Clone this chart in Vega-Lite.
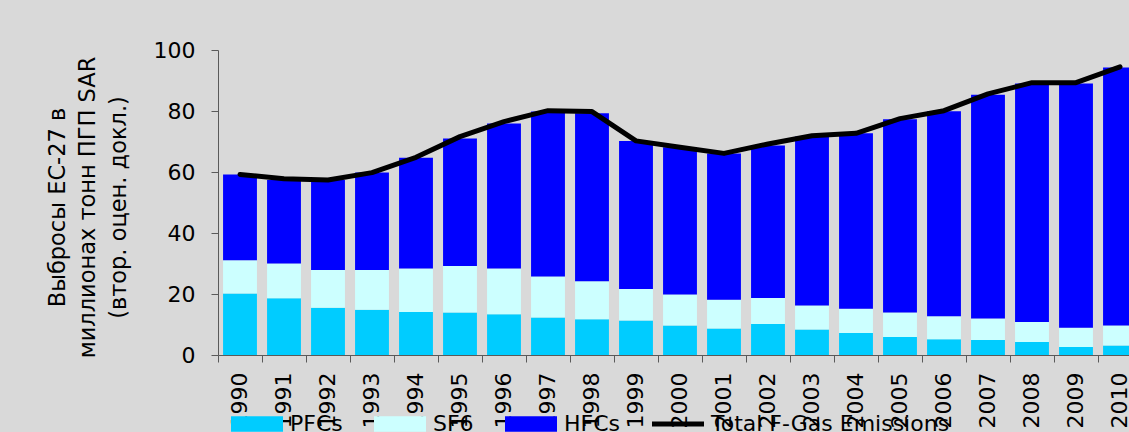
{
  "$schema": "https://vega.github.io/schema/vega-lite/v6.json",
  "width": 911,
  "height": 305,
  "autosize": {"type": "none"},
  "padding": {"left": 218, "top": 50, "right": 0, "bottom": 77},
  "background": "#d9d9d9",
  "config": {
    "view": {"stroke": null},
    "font": "DejaVu Sans",
    "axis": {"domainColor": "#5a5a5a", "tickColor": "#5a5a5a", "labelColor": "#000000", "titleColor": "#000000", "grid": false}
  },
  "datasets": {
    "gases": [
      {"year": "1990", "series": "PFCs", "value": 20.2}, {"year": "1990", "series": "SF6", "value": 10.9}, {"year": "1990", "series": "HFCs", "value": 28.1},
      {"year": "1991", "series": "PFCs", "value": 18.6}, {"year": "1991", "series": "SF6", "value": 11.4}, {"year": "1991", "series": "HFCs", "value": 27.4},
      {"year": "1992", "series": "PFCs", "value": 15.5}, {"year": "1992", "series": "SF6", "value": 12.4}, {"year": "1992", "series": "HFCs", "value": 29.5},
      {"year": "1993", "series": "PFCs", "value": 14.8}, {"year": "1993", "series": "SF6", "value": 13.1}, {"year": "1993", "series": "HFCs", "value": 31.9},
      {"year": "1994", "series": "PFCs", "value": 14.1}, {"year": "1994", "series": "SF6", "value": 14.3}, {"year": "1994", "series": "HFCs", "value": 36.3},
      {"year": "1995", "series": "PFCs", "value": 13.9}, {"year": "1995", "series": "SF6", "value": 15.3}, {"year": "1995", "series": "HFCs", "value": 41.8},
      {"year": "1996", "series": "PFCs", "value": 13.4}, {"year": "1996", "series": "SF6", "value": 15.0}, {"year": "1996", "series": "HFCs", "value": 47.5},
      {"year": "1997", "series": "PFCs", "value": 12.3}, {"year": "1997", "series": "SF6", "value": 13.4}, {"year": "1997", "series": "HFCs", "value": 54.1},
      {"year": "1998", "series": "PFCs", "value": 11.7}, {"year": "1998", "series": "SF6", "value": 12.5}, {"year": "1998", "series": "HFCs", "value": 55.1},
      {"year": "1999", "series": "PFCs", "value": 11.3}, {"year": "1999", "series": "SF6", "value": 10.3}, {"year": "1999", "series": "HFCs", "value": 48.6},
      {"year": "2000", "series": "PFCs", "value": 9.7}, {"year": "2000", "series": "SF6", "value": 10.1}, {"year": "2000", "series": "HFCs", "value": 48.3},
      {"year": "2001", "series": "PFCs", "value": 8.7}, {"year": "2001", "series": "SF6", "value": 9.4}, {"year": "2001", "series": "HFCs", "value": 48.0},
      {"year": "2002", "series": "PFCs", "value": 10.2}, {"year": "2002", "series": "SF6", "value": 8.5}, {"year": "2002", "series": "HFCs", "value": 50.0},
      {"year": "2003", "series": "PFCs", "value": 8.4}, {"year": "2003", "series": "SF6", "value": 7.8}, {"year": "2003", "series": "HFCs", "value": 55.4},
      {"year": "2004", "series": "PFCs", "value": 7.2}, {"year": "2004", "series": "SF6", "value": 8.0}, {"year": "2004", "series": "HFCs", "value": 57.5},
      {"year": "2005", "series": "PFCs", "value": 5.9}, {"year": "2005", "series": "SF6", "value": 8.0}, {"year": "2005", "series": "HFCs", "value": 63.4},
      {"year": "2006", "series": "PFCs", "value": 5.2}, {"year": "2006", "series": "SF6", "value": 7.5}, {"year": "2006", "series": "HFCs", "value": 67.2},
      {"year": "2007", "series": "PFCs", "value": 4.9}, {"year": "2007", "series": "SF6", "value": 7.1}, {"year": "2007", "series": "HFCs", "value": 73.3},
      {"year": "2008", "series": "PFCs", "value": 4.3}, {"year": "2008", "series": "SF6", "value": 6.5}, {"year": "2008", "series": "HFCs", "value": 78.2},
      {"year": "2009", "series": "PFCs", "value": 2.6}, {"year": "2009", "series": "SF6", "value": 6.3}, {"year": "2009", "series": "HFCs", "value": 80.1},
      {"year": "2010", "series": "PFCs", "value": 3.1}, {"year": "2010", "series": "SF6", "value": 6.6}, {"year": "2010", "series": "HFCs", "value": 84.6}
    ],
    "totals": [
      {"year": "1990", "total": 59.2}, {"year": "1991", "total": 57.8}, {"year": "1992", "total": 57.4},
      {"year": "1993", "total": 59.8}, {"year": "1994", "total": 64.8}, {"year": "1995", "total": 71.6},
      {"year": "1996", "total": 76.5}, {"year": "1997", "total": 80.1}, {"year": "1998", "total": 79.8},
      {"year": "1999", "total": 70.2}, {"year": "2000", "total": 68.1}, {"year": "2001", "total": 66.1},
      {"year": "2002", "total": 69.2}, {"year": "2003", "total": 71.9}, {"year": "2004", "total": 72.7},
      {"year": "2005", "total": 77.5}, {"year": "2006", "total": 80.1}, {"year": "2007", "total": 85.6},
      {"year": "2008", "total": 89.3}, {"year": "2009", "total": 89.3}, {"year": "2010", "total": 94.5}
    ]
  },
  "layer": [
    {
      "data": {"name": "gases"},
      "transform": [{"calculate": "indexof(['PFCs', 'SF6', 'HFCs'], datum.series)", "as": "stackOrder"}],
      "mark": {"type": "bar", "width": {"band": 0.77}},
      "encoding": {
        "x": {
          "field": "year", "type": "ordinal",
          "scale": {"paddingInner": 0, "paddingOuter": 0, "range": [0, 924]},
          "axis": {"title": null, "labelAngle": -90, "labelFontSize": 22, "labelPadding": 10, "tickSize": 7, "bandPosition": 0, "labelOverlap": false}
        },
        "y": {
          "field": "value", "type": "quantitative", "stack": "zero",
          "scale": {"domain": [0, 100], "nice": false},
          "axis": {
            "values": [0, 20, 40, 60, 80, 100], "labelFontSize": 22, "labelPadding": 16, "tickSize": 7,
            "title": ["Выбросы ЕС-27 в", "миллионах тонн ПГП SAR", "(втор. оцен. докл.)"],
            "titleFontSize": 22.5, "titleFontWeight": "normal", "titleLineHeight": 30.5,
            "titleAngle": -90, "titleAlign": "center", "titleBaseline": "middle", "titleX": -161, "titleY": 157
          }
        },
        "order": {"field": "stackOrder", "type": "quantitative", "sort": "ascending"},
        "color": {
          "field": "series", "type": "nominal",
          "sort": ["PFCs", "SF6", "HFCs"],
          "scale": {"domain": ["PFCs", "SF6", "HFCs", "Total F-Gas Emissions"], "range": ["#00ccff", "#ccffff", "#0000ff", "#000000"]},
          "legend": {
            "title": null, "orient": "none", "legendX": 13, "legendY": 348, "direction": "horizontal",
            "padding": 0, "labelFontSize": 22, "labelOffset": 7, "columnPadding": 31, "labelLimit": 0,
            "symbolSize": 2704, "symbolStrokeWidth": 0, "symbolOpacity": 1,
            "encode": {"symbols": {"update": {"shape": {"signal": "datum.label === 'Total F-Gas Emissions' ? 'M-1,-0.1H1V0.1H-1Z' : 'M-1,-0.3H1V0.3H-1Z'"}}}}
          }
        }
      }
    },
    {
      "data": {"name": "totals"},
      "mark": {"type": "line", "color": "#000000", "strokeWidth": 5, "strokeCap": "round", "strokeJoin": "round"},
      "encoding": {
        "x": {"field": "year", "type": "ordinal"},
        "y": {"field": "total", "type": "quantitative"}
      }
    }
  ]
}
